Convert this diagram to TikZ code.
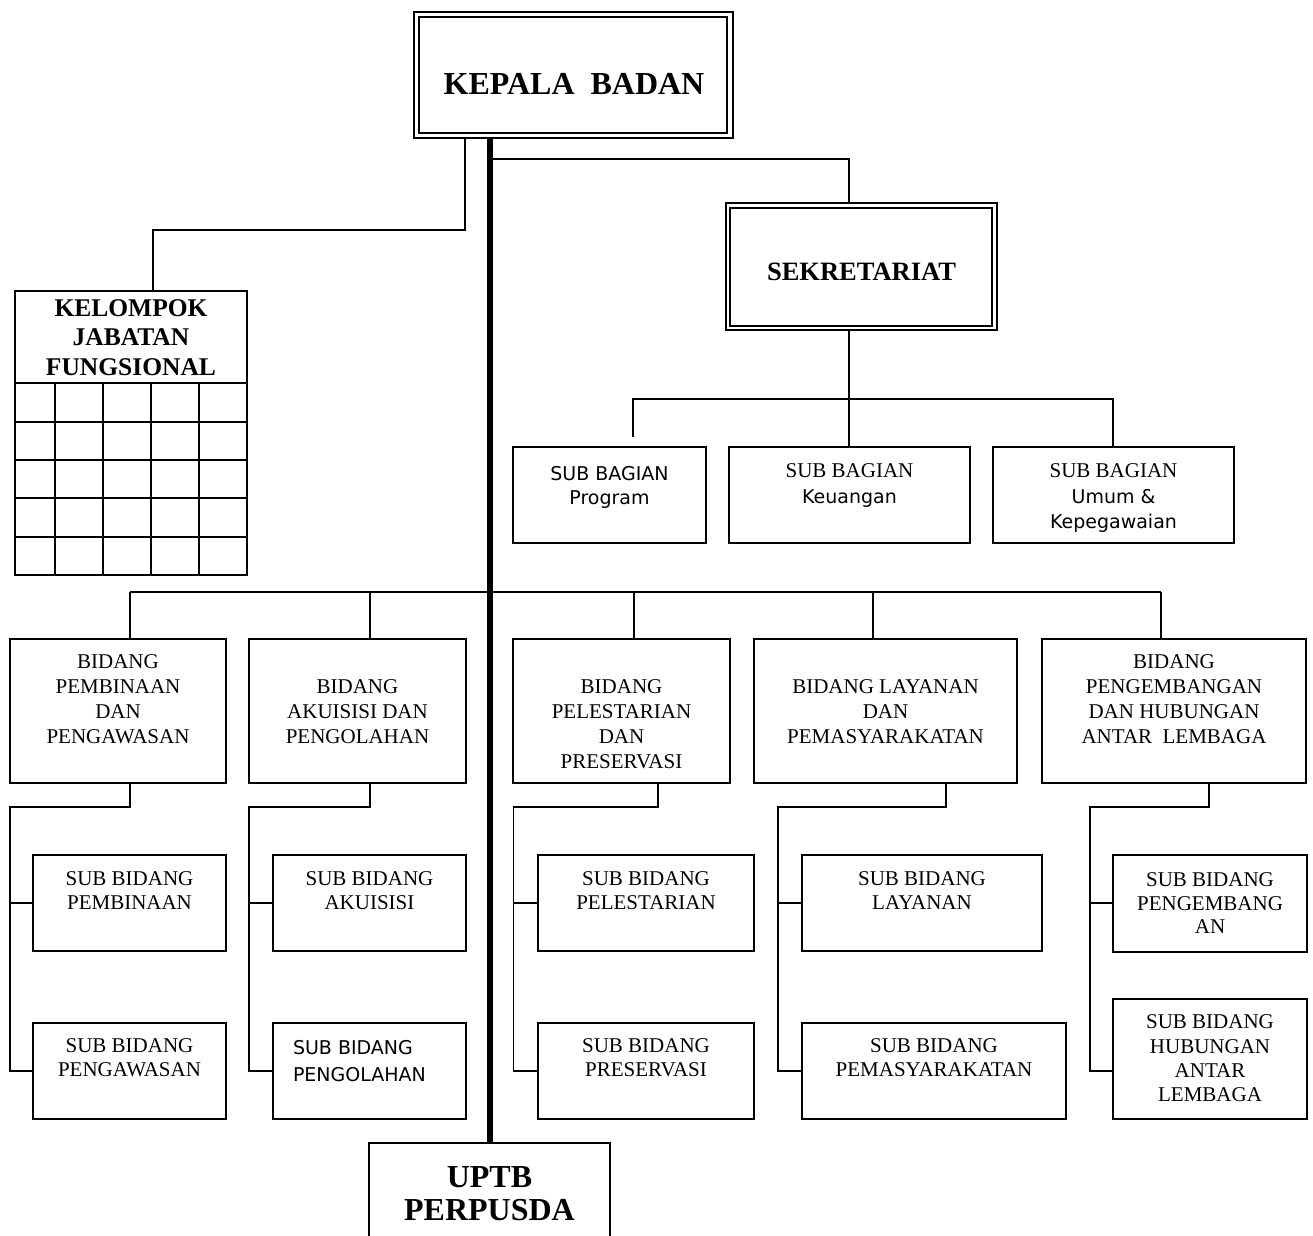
\documentclass[tikz,border=0pt]{standalone}
\usepackage{fontspec}
\setmainfont{Liberation Serif}
\newfontfamily\sansf{DejaVu Sans}
\begin{document}
\begin{tikzpicture}[x=1pt,y=-1pt,
  bx/.style={draw, rectangle, line width=1.8, inner sep=0, outer sep=0, anchor=north west},
  conn/.style={line width=1.6},
  trunk/.style={line width=6},
  tx/.style={inner sep=0, outer sep=0, align=center, anchor=north, font=\fontsize{21}{25}\selectfont},
  stx/.style={tx, font=\fontsize{21}{24}\selectfont},
  btx/.style={inner sep=0, outer sep=0, align=center, font=\bfseries\fontsize{#1}{#1}\selectfont},
]
\useasboundingbox (0,0) rectangle (1313,1235);
\clip (0,0) rectangle (1313,1235);

% ---- top boxes
\node[bx, line width=1.6, minimum width=319, minimum height=126] (kb) at (414,12) {};
\node[bx, line width=2.8, minimum width=308, minimum height=116] (kbi) at (419,17) {};
\node[btx=32] (kbt) at (574,84) {KEPALA\ \ BADAN};

\node[bx, line width=2.8, minimum width=271, minimum height=127] (sk) at (726,203) {};
\node[bx, line width=1.6, minimum width=262, minimum height=118] (ski) at (730,208) {};
\node[btx=26.5] (skt) at (861.5,272) {SEKRETARIAT};

% ---- kelompok jabatan fungsional
\node[bx, line width=2.2, minimum width=232, minimum height=284] (kj) at (15,291) {};
\node[btx=25.5, font=\bfseries\fontsize{25.5}{29.5}\selectfont, anchor=north] (kjt) at (131,299.5) {KELOMPOK\\JABATAN\\FUNGSIONAL};
\foreach \yy in {383,422,460,498,537} \draw[line width=2.2] (15,\yy) -- (247,\yy);
\foreach \xx in {55,103,151,199} \draw[line width=2.2] (\xx,383) -- (\xx,575);

% ---- UPTB
\node[bx, minimum width=241, minimum height=150] (uptb) at (369,1143) {};
\node[btx=32, font=\bfseries\fontsize{32}{33}\selectfont, anchor=north] (uptbt) at (489.5,1166.5) {UPTB\\PERPUSDA};

% ---- sub bagian
\node[bx, minimum width=193, minimum height=96] (sb1) at (513,447) {};
\node[bx, minimum width=241, minimum height=96] (sb2) at (729,447) {};
\node[bx, minimum width=241, minimum height=96] (sb3) at (993,447) {};
\node[tx, font=\sansf\fontsize{19}{24}\selectfont] (sb1t) at (609.5,466) {SUB BAGIAN\\Program};
\node[tx, font=\fontsize{21}{26}\selectfont] (sb2t) at (849.5,464) {SUB BAGIAN\\{\sansf\fontsize{19}{26}\selectfont Keuangan}};
\node[tx, font=\fontsize{21}{25.5}\selectfont] (sb3t) at (1113.5,464) {SUB BAGIAN\\{\sansf\fontsize{19}{25.5}\selectfont Umum \&}\\{\sansf\fontsize{19}{25.5}\selectfont Kepegawaian}};

% ---- bidang
\node[bx, minimum width=216, minimum height=144] (b1) at (10,639) {};
\node[bx, minimum width=217, minimum height=144] (b2) at (249,639) {};
\node[bx, minimum width=217, minimum height=144] (b3) at (513,639) {};
\node[bx, minimum width=263, minimum height=144] (b4) at (754,639) {};
\node[bx, minimum width=264, minimum height=144] (b5) at (1042,639) {};
\node[tx] (b1t) at (118,655) {BIDANG\\PEMBINAAN\\DAN\\PENGAWASAN};
\node[tx] (b2t) at (357.5,680) {BIDANG\\AKUISISI DAN\\PENGOLAHAN};
\node[tx, font=\fontsize{21}{24.7}\selectfont] (b3t) at (621.5,680) {BIDANG\\PELESTARIAN\\DAN\\PRESERVASI};
\node[tx] (b4t) at (885.5,680) {BIDANG LAYANAN\\DAN\\PEMASYARAKATAN};
\node[tx] (b5t) at (1174,655) {BIDANG\\PENGEMBANGAN\\DAN HUBUNGAN\\ANTAR\ \ LEMBAGA};

% ---- sub bidang
\node[bx, minimum width=193, minimum height=96] (s1a) at (33,855) {};
\node[bx, minimum width=193, minimum height=96] (s1b) at (33,1023) {};
\node[bx, minimum width=193, minimum height=96] (s2a) at (273,855) {};
\node[bx, minimum width=193, minimum height=96] (s2b) at (273,1023) {};
\node[bx, minimum width=216, minimum height=96] (s3a) at (538,855) {};
\node[bx, minimum width=216, minimum height=96] (s3b) at (538,1023) {};
\node[bx, minimum width=240, minimum height=96] (s4a) at (802,855) {};
\node[bx, minimum width=264, minimum height=96] (s4b) at (802,1023) {};
\node[bx, minimum width=194, minimum height=97] (s5a) at (1113,855) {};
\node[bx, minimum width=194, minimum height=120] (s5b) at (1113,999) {};

\node[stx] (s1at) at (129.5,872) {SUB BIDANG\\PEMBINAAN};
\node[stx] (s1bt) at (129.5,1039) {SUB BIDANG\\PENGAWASAN};
\node[stx] (s2at) at (369.5,872) {SUB BIDANG\\AKUISISI};
\node[inner sep=0, outer sep=0, align=left, anchor=north west, font=\sansf\fontsize{19}{27}\selectfont] (s2bt) at (293,1040) {SUB BIDANG\\PENGOLAHAN};
\node[stx] (s3at) at (646,872) {SUB BIDANG\\PELESTARIAN};
\node[stx] (s3bt) at (646,1039) {SUB BIDANG\\PRESERVASI};
\node[stx] (s4at) at (922,872) {SUB BIDANG\\LAYANAN};
\node[stx] (s4bt) at (934,1039) {SUB BIDANG\\PEMASYARAKATAN};
\node[tx, font=\fontsize{21}{23.5}\selectfont] (s5at) at (1210,873) {SUB BIDANG\\PENGEMBANG\\AN};
\node[tx, font=\fontsize{21}{24.3}\selectfont] (s5bt) at (1210,1015) {SUB BIDANG\\HUBUNGAN\\ANTAR\\LEMBAGA};

% ---- coordinates
\coordinate (tr) at (490,0);
\coordinate (k1) at (465,230);
\coordinate (k2) at (153,230);
\coordinate (s1) at (849,159);
\coordinate (sbL) at (633,399);
\coordinate (sbM) at (849,399);
\coordinate (sbR) at (1113,399);
\coordinate (d1) at (130,592);
\coordinate (d2) at (370,592);
\coordinate (d3) at (634,592);
\coordinate (d4) at (873,592);
\coordinate (d5) at (1161,592);
\coordinate (e1) at (130,807);   \coordinate (p1) at (10,807);
\coordinate (e2) at (370,807);   \coordinate (p2) at (249,807);
\coordinate (e3) at (658,807);   \coordinate (p3) at (513.5,807);
\coordinate (e4) at (946,807);   \coordinate (p4) at (778,807);
\coordinate (e5) at (1209,807);  \coordinate (p5) at (1090,807);
\coordinate (hA) at (0,903);
\coordinate (hB) at (0,1071);

% ---- connectors
\draw[trunk] (kb.south -| tr) -- (uptb.north -| tr);
\draw[conn] (kb.south -| k1) -- (k1) -- (k2) -- (kj.north -| k2);
\draw[conn] (s1 -| tr) -- (s1) -- (sk.north -| s1);
\draw[conn] (sk.south -| sbM) -- (sbM) -- (sb2.north -| sbM);
\draw[conn] (sb3.north -| sbR) -- (sbR) -- (sbL) -- ++(0,38);
\draw[conn] (d1) -- (d5);
\draw[conn] (d1) -- (b1.north -| d1);
\draw[conn] (d2) -- (b2.north -| d2);
\draw[conn] (d3) -- (b3.north -| d3);
\draw[conn] (d4) -- (b4.north -| d4);
\draw[conn] (d5) -- (b5.north -| d5);

\draw[conn] (b1.south -| e1) -- (e1) -- (p1) -- (p1 |- hB) -- (s1b.west |- hB);
\draw[conn] (p1 |- hA) -- (s1a.west |- hA);
\draw[conn] (b2.south -| e2) -- (e2) -- (p2) -- (p2 |- hB) -- (s2b.west |- hB);
\draw[conn] (p2 |- hA) -- (s2a.west |- hA);
\draw[conn] (b3.south -| e3) -- (e3) -- (p3) -- (p3 |- hB) -- (s3b.west |- hB);
\draw[conn] (p3 |- hA) -- (s3a.west |- hA);
\draw[conn] (b4.south -| e4) -- (e4) -- (p4) -- (p4 |- hB) -- (s4b.west |- hB);
\draw[conn] (p4 |- hA) -- (s4a.west |- hA);
\draw[conn] (b5.south -| e5) -- (e5) -- (p5) -- (p5 |- hB) -- (s5b.west |- hB);
\draw[conn] (p5 |- hA) -- (s5a.west |- hA);
\end{tikzpicture}
\end{document}
